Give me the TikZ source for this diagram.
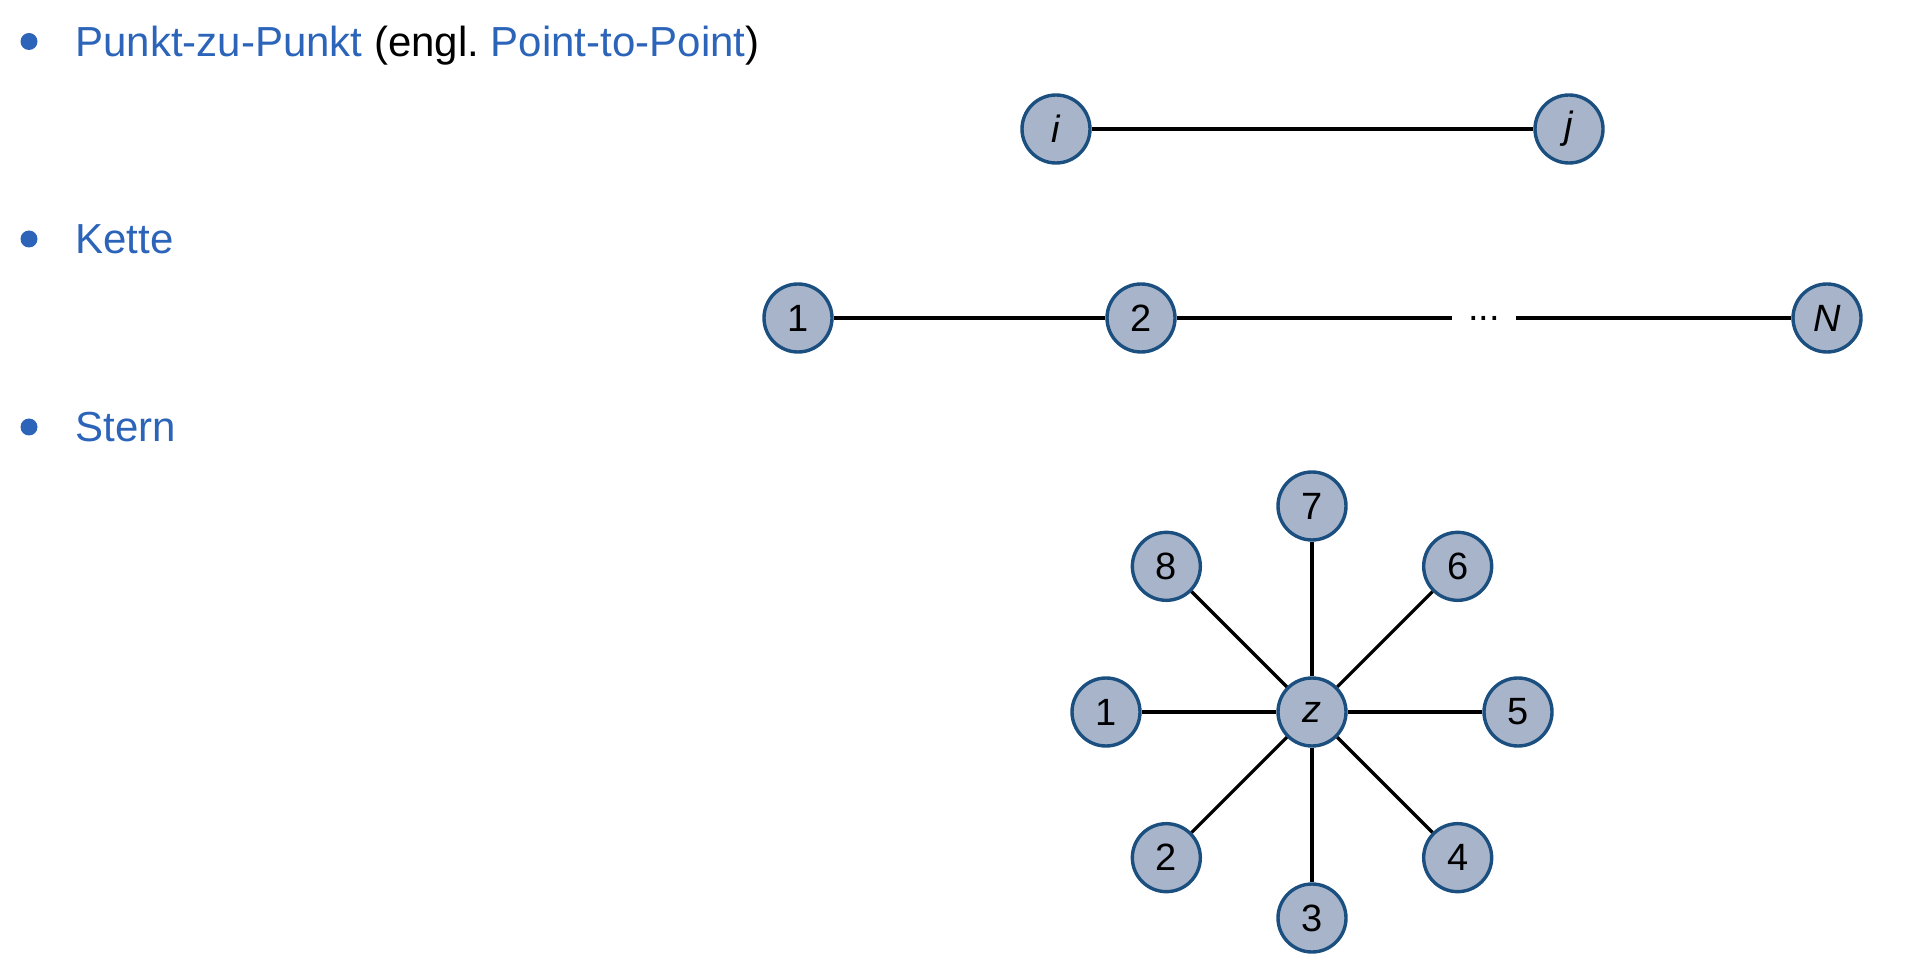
\documentclass[tikz,border=0pt]{standalone}
\usepackage{fontspec}
\setmainfont{Liberation Sans}
\usetikzlibrary{positioning}
\definecolor{itemblue}{HTML}{2B64B8}
\definecolor{knotfill}{HTML}{A8B4CA}
\definecolor{knotedge}{HTML}{1B4F80}

\begin{document}
\begin{tikzpicture}[x=0.5pt,y=-0.5pt,
  knot/.style={circle,draw=knotedge,fill=knotfill,line width=1.7pt,minimum size=34pt,inner sep=0pt,font=\fontsize{19}{22}\selectfont},
  link/.style={line width=1.6pt},
  bul/.style={circle,fill=itemblue,minimum size=8.5pt,inner sep=0pt},
  lbl/.style={anchor=base west,inner sep=0pt,font=\fontsize{21}{24}\selectfont}]
\useasboundingbox (0,0) rectangle (1912,978);
% list items
\node[bul] (b1) at (29,41.5) {};
\node[lbl] (t1) at (75,56.5) {\textcolor{itemblue}{Punkt-zu-Punkt} (engl.\ \textcolor{itemblue}{Point-to-Point})};
\node[bul] (b2) at (29,239) {};
\node[lbl,text=itemblue] (t2) at (75,254) {Kette};
\node[bul] (b3) at (29,427) {};
\node[lbl,text=itemblue] (t3) at (75,442) {Stern};
% point-to-point
\node[knot] (i) at (1056,129) {\textit{i}};
\node[knot] (j) at (1569,129) {\textit{j}};
\draw[link] (i)--(j);
% chain
\begin{scope}[node distance=171.5pt,on grid]
\node[knot] (c1) at (798,318) {1};
\node[knot,right=of c1] (c2) {2};
\node[inner sep=0pt,minimum width=32pt,font=\fontsize{19}{22}\selectfont,right=of c2] (dots) {...};
\node[knot,right=of dots] (cN) {\textit{N}};
\end{scope}
\foreach \a/\b in {c1/c2,c2/dots,dots/cN}{\draw[link](\a)--(\b);}
% star
\node[knot] (z) at (1312,712) {\textit{z}};
\foreach \k in {1,...,8}{
  \node[knot] (s\k) at ([shift={({180-45*(\k-1)}:206)}]z) {\k};
  \draw[link] (z)--(s\k);
}
\end{tikzpicture}
\end{document}
